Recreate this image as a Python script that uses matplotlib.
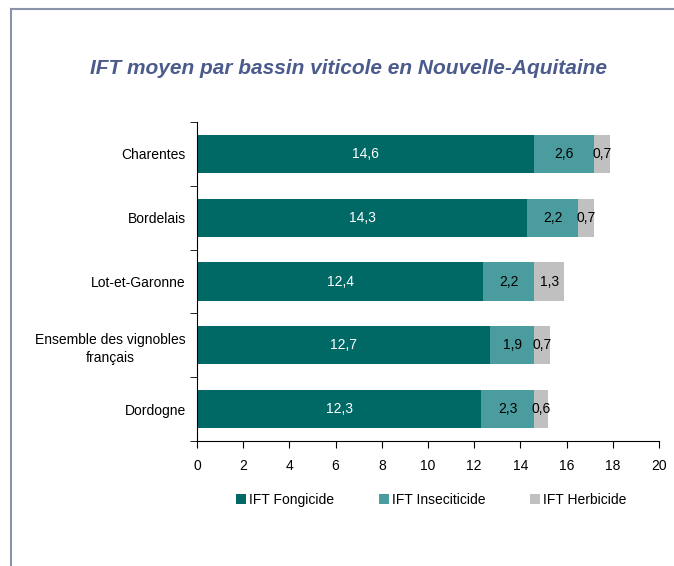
import numpy as np
import matplotlib.pyplot as plt
from matplotlib.lines import Line2D

plt.rcParams['font.family'] = ['Liberation Sans', 'DejaVu Sans']

# donnees
bassins = ['Charentes', 'Bordelais', 'Lot-et-Garonne',
           'Ensemble des vignobles\nfrançais', 'Dordogne']
fongicide = [14.6, 14.3, 12.4, 12.7, 12.3]
insecticide = [2.6, 2.2, 2.2, 1.9, 2.3]
herbicide = [0.7, 0.7, 1.3, 0.7, 0.6]

series = [('IFT Fongicide', fongicide, '#006965', 'white'),
          ('IFT Inseciticide', insecticide, '#4a9c9f', 'black'),
          ('IFT Herbicide', herbicide, '#c0c0c0', 'black')]

fig = plt.figure(figsize=(6.74, 5.66), dpi=100)
ax = fig.add_axes([197/674, 1-441/566, 462/674, 319/566])

y = np.arange(len(bassins))
gauche = np.zeros(len(bassins))
for nom, vals, coul, coul_txt in series:
    vals = np.array(vals)
    bars = ax.barh(y, vals, left=gauche, height=0.6, color=coul, label=nom)
    for b, v in zip(bars, vals):
        ax.text(b.get_x() + b.get_width()/2, b.get_y() + b.get_height()/2,
                ('%.1f' % v).replace('.', ','), ha='center', va='center',
                color=coul_txt, fontsize=10)
    gauche += vals

ax.set_xlim(0, 20)
ax.set_ylim(len(bassins) - 0.5, -0.5)
ax.set_xticks(range(0, 21, 2))
ax.set_yticks(y)
ax.set_yticklabels(bassins, fontsize=10, linespacing=1.4, multialignment='center')
ax.set_yticks(np.arange(-0.5, len(bassins)), minor=True)
ax.tick_params(axis='y', which='major', length=0, pad=8)
ax.tick_params(axis='y', which='minor', length=5, direction='out')
ax.tick_params(axis='x', length=5, direction='out', labelsize=10, pad=8)
for s in ['top', 'right']:
    ax.spines[s].set_visible(False)

ax.legend(loc='center left', bbox_to_anchor=(236/674, 1-500/566),
          bbox_transform=fig.transFigure, ncol=3, frameon=False, fontsize=10,
          handlelength=0.75, handleheight=0.75, columnspacing=3.2,
          handletextpad=0.2, borderaxespad=0, borderpad=0)

fig.text(349/674, 1-68/566, 'IFT moyen par bassin viticole en Nouvelle-Aquitaine',
         ha='center', va='center', fontsize=15, fontweight='bold',
         style='italic', color='#4a5b8c')

# cadre
fig.add_artist(Line2D([11/674, 1], [1-9/566, 1-9/566], color='#8a93a8', lw=1.5))
fig.add_artist(Line2D([11/674, 11/674], [0, 1-9/566], color='#8a93a8', lw=1.5))

fig.savefig('out.png', dpi=100)
